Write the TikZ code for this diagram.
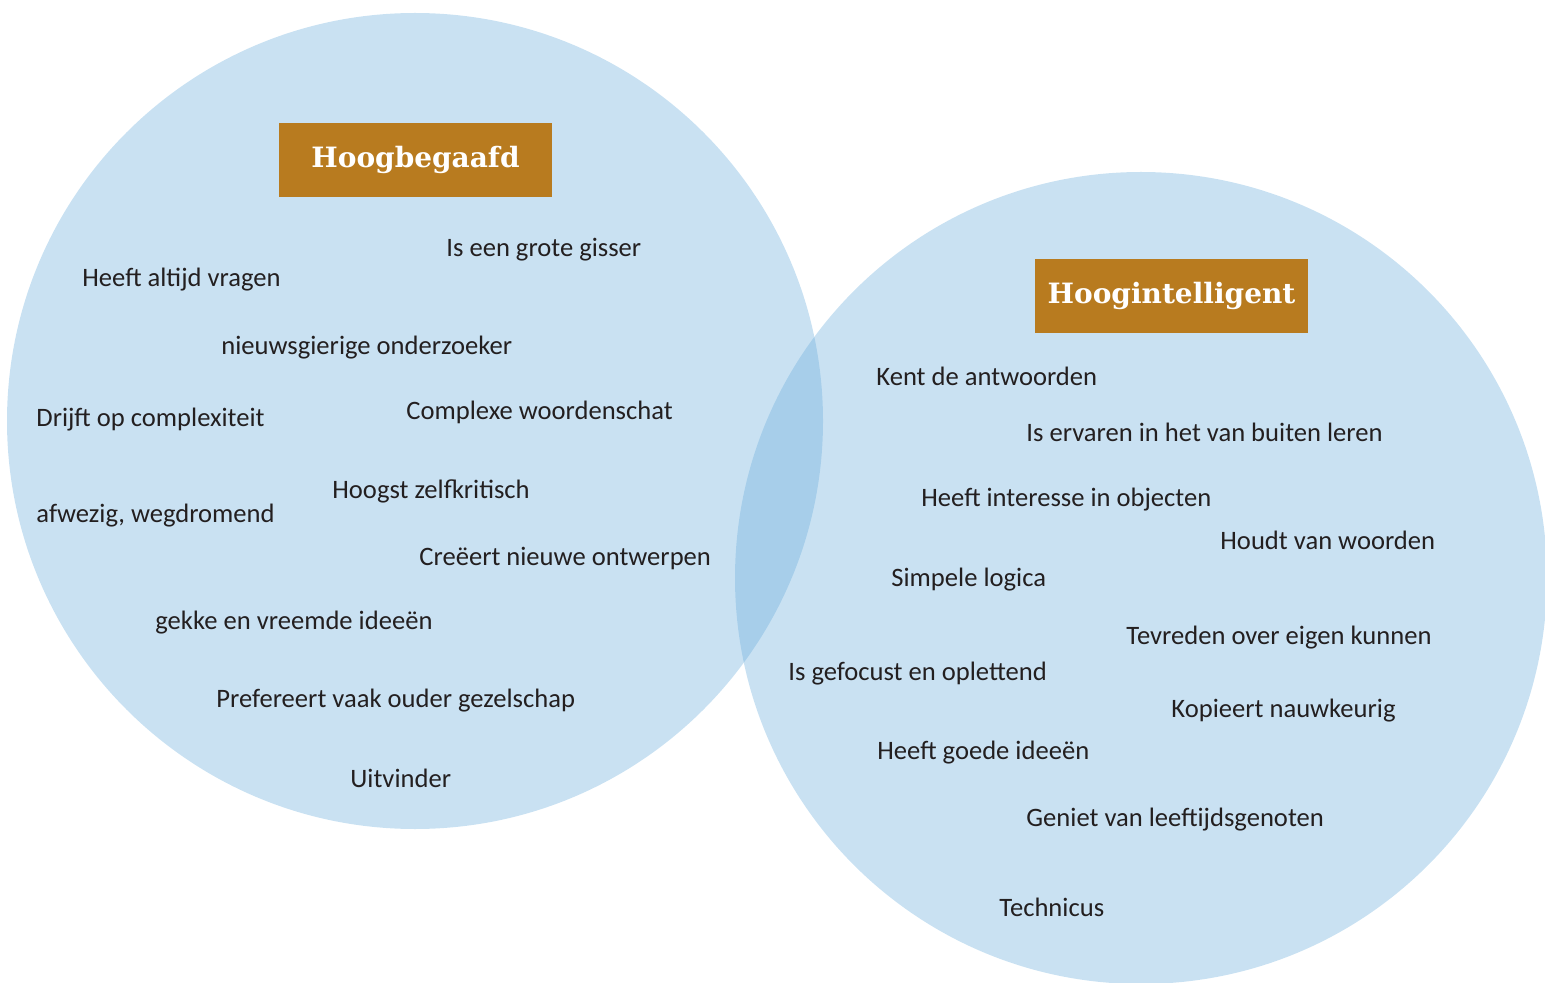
\documentclass[tikz,border=0pt]{standalone}
\usepackage{fontspec}
\setmainfont{Carlito}
\newfontfamily\titlefont{DejaVu Serif}
\definecolor{vennblue}{RGB}{109,174,220}
\definecolor{titlebrown}{RGB}{184,123,31}
\definecolor{traittext}{RGB}{35,31,32}
\tikzset{%
  % Specifications for style of nodes:
        circlebase/.style = {fill=vennblue, fill opacity=0.37, draw=none},
          titlebox/.style = {rectangle, fill=titlebrown, text=white,
                             minimum width=136.5pt, minimum height=37pt,
                             inner sep=0pt, font=\titlefont\bfseries\fontsize{14}{17}\selectfont},
             trait/.style = {anchor=base west, inner sep=0pt, text=traittext,
                             font=\fontsize{13.3}{15}\selectfont},
}
\begin{document}
\begin{tikzpicture}[x=0.5pt, y=-0.5pt]
  \useasboundingbox (0,0) rectangle (1545,983);
  \clip (0,0) rectangle (1545,983);
  % the two circles
  \fill[circlebase] (415,421) circle [radius=408];
  \fill[circlebase] (1141,578) circle [radius=406];
  % Specification of title nodes
  \node (hoogbegaafd)     [titlebox] at (415.5,160) {Hoogbegaafd};
  \node (hoogintelligent) [titlebox] at (1171.5,296) {Hoogintelligent};
  % left circle
  \node (gisser)      [trait] at (446,257) {Is een grote gisser};
  \node (vragen)      [trait] at (82,287)  {Heeft altijd vragen};
  \node (onderzoeker) [trait] at (221,355) {nieuwsgierige onderzoeker};
  \node (complex)     [trait] at (36,427)  {Drijft op complexiteit};
  \node (woordensch)  [trait] at (406,420) {Complexe woordenschat};
  \node (zelfkrit)    [trait] at (332,498) {Hoogst zelfkritisch};
  \node (afwezig)     [trait] at (36,522)  {afwezig, wegdromend};
  \node (ontwerpen)   [trait] at (419,565) {Creëert nieuwe ontwerpen};
  \node (ideeen)      [trait] at (155,629) {gekke en vreemde ideeën};
  \node (gezelschap)  [trait] at (216,707) {Prefereert vaak ouder gezelschap};
  \node (uitvinder)   [trait] at (350,787) {Uitvinder};
  % right circle
  \node (antwoorden)  [trait] at (876,386)  {Kent de antwoorden};
  \node (buitenleren) [trait] at (1026,442) {Is ervaren in het van buiten leren};
  \node (objecten)    [trait] at (921,506)  {Heeft interesse in objecten};
  \node (woorden)     [trait] at (1220,549) {Houdt van woorden};
  \node (logica)      [trait] at (891,586)  {Simpele logica};
  \node (tevreden)    [trait] at (1126,644) {Tevreden over eigen kunnen};
  \node (gefocust)    [trait] at (788,680)  {Is gefocust en oplettend};
  \node (kopieert)    [trait] at (1171,717) {Kopieert nauwkeurig};
  \node (goedeidee)   [trait] at (877,759)  {Heeft goede ideeën};
  \node (genoten)     [trait] at (1026,826) {Geniet van leeftijdsgenoten};
  \node (technicus)   [trait] at (999,916)  {Technicus};
\end{tikzpicture}
\end{document}
